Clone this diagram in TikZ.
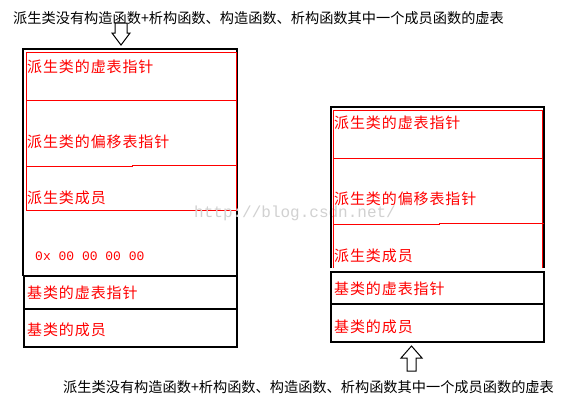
\documentclass[tikz,border=0pt]{standalone}
\usepackage{fontspec}
\newfontfamily\cjk{Noto Sans CJK SC}
\newfontfamily\cjkrad[LetterSpace=6]{Noto Sans CJK SC}
\newfontfamily\mono{Liberation Mono}
\tikzset{
  rosso/.style={text=red,font=\cjkrad\fontsize{15}{15}\selectfont,anchor=west,inner sep=0pt},
  titolo/.style={font=\cjk\fontsize{14.2}{15}\selectfont,anchor=west,inner sep=0pt},
  nero/.style={draw=black,line width=1.3pt},
  base/.style={draw=black,line width=2pt},
  linea/.style={draw=red,line width=1pt},
  freccia/.style={draw=black,fill=white,line width=1pt}
}
\begin{document}
\begin{tikzpicture}[x=1pt,y=-1pt]
    \useasboundingbox[fill=white](0,0)rectangle(578,413);
    %testo in alto
    \node[titolo](titoloA)at(13,18.5){派生类没有构造函数+析构函数、构造函数、析构函数其中一个成员函数的虚表};
    %freccia verso il basso
    \draw[freccia](115,23)--(115,33)--(112,33)--(121,45)--(130,33)--(127,33)--(127,23)--cycle;

    %oggetto di sinistra
    \draw[nero](23,276)--(23,49)--(237,49)--(237,276);
    \draw[linea](26,52)rectangle(236,210);
    \draw[linea](26,100)--(236,100);
    \draw[linea](26,166)--(132,166)--(132,165)--(237,165);
    \draw[base](24,276)rectangle(237,309);
    \draw[base](24,309)rectangle(237,347);
    \node[rosso](vptrS)at(27,67){派生类的虚表指针};
    \node[rosso](offS)at(27,142){派生类的偏移表指针};
    \node[rosso](membS)at(27,198){派生类成员};
    \node[anchor=west,inner sep=0pt,text=red,font=\mono\fontsize{13}{13}\selectfont](zeroS)at(35,256){0x 00 00 00 00};
    \node[rosso](bvptrS)at(27,293){基类的虚表指针};
    \node[rosso](bmembS)at(27,330){基类的成员};

    %filigrana
    \node[anchor=west,inner sep=0pt,text=black!18,font=\mono\fontsize{16}{16}\selectfont](filigrana)at(194,213){http://blog.csdn.net/};

    %oggetto di destra
    \draw[nero](331,268)--(331,107)--(544,107)--(544,268);
    \draw[linea](333,268)--(333,110)--(542,110)--(542,268);
    \draw[linea](333,158)--(542,158);
    \draw[linea](333,224)--(439,224)--(439,223)--(544,223);
    \draw[base](331,272)rectangle(544,304);
    \draw[base](331,304)rectangle(544,342);
    \node[rosso](vptrD)at(334,123){派生类的虚表指针};
    \node[rosso](offD)at(334,199){派生类的偏移表指针};
    \node[rosso](membD)at(334,256){派生类成员};
    \node[rosso](bvptrD)at(334,289){基类的虚表指针};
    \node[rosso](bmembD)at(334,327){基类的成员};

    %freccia verso l'alto
    \draw[freccia](407,371)--(407,358)--(401,358)--(411.5,346)--(422,358)--(416,358)--(416,371)--cycle;
    %testo in basso
    \node[titolo](titoloB)at(63,387){派生类没有构造函数+析构函数、构造函数、析构函数其中一个成员函数的虚表};
\end{tikzpicture}
\end{document}
